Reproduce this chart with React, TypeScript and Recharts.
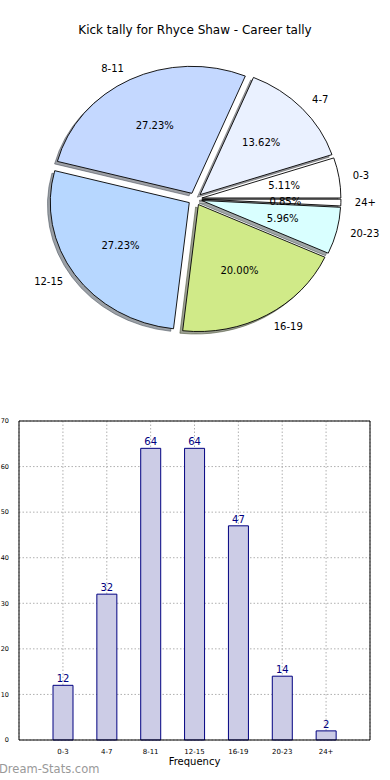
import { PieChart, Pie, Cell, BarChart, Bar, XAxis, YAxis, CartesianGrid, LabelList } from "recharts"

const categories = ["0-3", "4-7", "8-11", "12-15", "16-19", "20-23", "24+"]
const kicks = [12, 32, 64, 64, 47, 14, 2]
const sliceColors = ["#ffffff", "#eaf1ff", "#c4d8ff", "#b7d7ff", "#d0ea88", "#d9ffff", "#ffffff"]
const yTicks = [0, 10, 20, 30, 40, 50, 60, 70]

const data = categories.map((name, i) => ({ name, value: kicks[i] }))

const FONT = "'DejaVu Sans', Verdana, sans-serif"
const RAD = Math.PI / 180
// matplotlib drew the pie without axis('equal'), so it is a bit squashed
const SQUASH = 127 / 139
const EXPLODE = 0.05

function darken(hex: string) {
  const n = parseInt(hex.slice(1), 16)
  const r = Math.round(((n >> 16) & 255) * 0.3)
  const g = Math.round(((n >> 8) & 255) * 0.3)
  const b = Math.round((n & 255) * 0.3)
  return `rgb(${r},${g},${b})`
}

function wedgePath(p: any, sx = 0, sy = 0) {
  const r = p.outerRadius
  const ry = r * SQUASH
  const mid = ((p.startAngle + p.endAngle) / 2) * RAD
  const ox = p.cx + EXPLODE * r * Math.cos(mid) + sx
  const oy = p.cy - EXPLODE * ry * Math.sin(mid) + sy
  const a1 = p.startAngle * RAD
  const a2 = p.endAngle * RAD
  const x1 = ox + r * Math.cos(a1)
  const y1 = oy - ry * Math.sin(a1)
  const x2 = ox + r * Math.cos(a2)
  const y2 = oy - ry * Math.sin(a2)
  const large = Math.abs(p.endAngle - p.startAngle) > 180 ? 1 : 0
  return `M${ox},${oy} L${x1},${y1} A${r},${ry} 0 ${large} 0 ${x2},${y2} Z`
}

const Wedge = (p: any) => (
  <path d={wedgePath(p)} fill={p.fill} stroke="#000" strokeWidth={0.9} strokeLinejoin="round" />
)

const ShadowWedge = (p: any) => {
  const c = darken(sliceColors[p.index ?? 0] || "#ffffff")
  return <path d={wedgePath(p, -2.8, 2.5)} fill={c} stroke={c} fillOpacity={0.5} strokeOpacity={0.5} />
}

const renderPieLabel = (p: any) => {
  const r = p.outerRadius
  const ry = r * SQUASH
  const mid = p.midAngle * RAD
  const ox = p.cx + EXPLODE * r * Math.cos(mid)
  const oy = p.cy - EXPLODE * ry * Math.sin(mid)
  const lx = ox + 1.1 * r * Math.cos(mid)
  const ly = oy - 1.1 * ry * Math.sin(mid)
  const px = ox + 0.6 * r * Math.cos(mid)
  const py = oy - 0.6 * ry * Math.sin(mid)
  return (
    <g>
      <text x={lx} y={ly} textAnchor={Math.cos(mid) > 0 ? "start" : "end"} dominantBaseline="central" fontSize={10} fontFamily={FONT} fill="#000">
        {categories[p.index]}
      </text>
      <text x={px} y={py} textAnchor="middle" dominantBaseline="central" fontSize={10} fontFamily={FONT} fill="#000">
        {(p.percent * 100).toFixed(2)}%
      </text>
    </g>
  )
}

export default function App() {
  return (
    <div style={{ position: "absolute", left: 0, top: 0, width: 390, height: 780, background: "#fff", overflow: "hidden" }}>
      <div style={{ position: "absolute", top: 23, left: 0, width: 390, textAlign: "center", fontFamily: FONT, fontSize: 12, color: "#000" }}>
        Kick tally for Rhyce Shaw - Career tally
      </div>

      <div style={{ position: "absolute", top: 0, left: 0 }}>
        <PieChart width={390} height={400} margin={{ top: 0, right: 0, bottom: 0, left: 0 }}>
          <Pie
            data={data}
            dataKey="value"
            cx={195}
            cy={199}
            outerRadius={139}
            startAngle={0}
            endAngle={360}
            shape={ShadowWedge}
            isAnimationActive={false}
          />
          <Pie
            data={data}
            dataKey="value"
            cx={195}
            cy={199}
            outerRadius={139}
            startAngle={0}
            endAngle={360}
            shape={Wedge}
            label={renderPieLabel}
            labelLine={false}
            isAnimationActive={false}
          >
            {data.map((d, i) => (
              <Cell key={d.name} fill={sliceColors[i]} />
            ))}
          </Pie>
        </PieChart>
      </div>

      <div style={{ position: "absolute", top: 400, left: 0 }}>
        <BarChart width={390} height={380} data={data} margin={{ top: 21, right: 20, left: 0, bottom: 0 }}>
          <CartesianGrid stroke="#b0b0b0" strokeDasharray="1.5 2" />
          <XAxis
            dataKey="name"
            height={40}
            padding={{ left: 22, right: 22 }}
            stroke="#000"
            tickLine={false}
            tick={{ fontSize: 7, fontFamily: FONT, fill: "#000" }}
            tickMargin={3}
            label={{ value: "Frequency", position: "insideBottom", offset: 15, fontSize: 10, fontFamily: FONT, fill: "#000" }}
          />
          <XAxis
            xAxisId="top"
            dataKey="name"
            orientation="top"
            mirror
            padding={{ left: 22, right: 22 }}
            stroke="#000"
            tick={false}
            tickSize={4}
          />
          <YAxis
            domain={[0, 70]}
            ticks={yTicks}
            width={19}
            stroke="#000"
            tickLine={false}
            tick={{ fontSize: 6.5, fontFamily: FONT, fill: "#000" }}
            tickMargin={4}
            interval={0}
          />
          <YAxis
            yAxisId="right"
            orientation="right"
            mirror
            domain={[0, 70]}
            ticks={yTicks}
            stroke="#000"
            tick={false}
            tickSize={4}
          />
          <Bar dataKey="value" fill="#ccccE6" stroke="#000080" strokeWidth={1} barSize={20} isAnimationActive={false}>
            <LabelList dataKey="value" position="top" offset={3} fill="#000080" fontSize={10} fontFamily={FONT} />
          </Bar>
        </BarChart>
      </div>

      <div style={{ position: "absolute", top: 762, left: -1, fontFamily: FONT, fontSize: 11.5, color: "#999" }}>
        Dream-Stats.com
      </div>
    </div>
  )
}
